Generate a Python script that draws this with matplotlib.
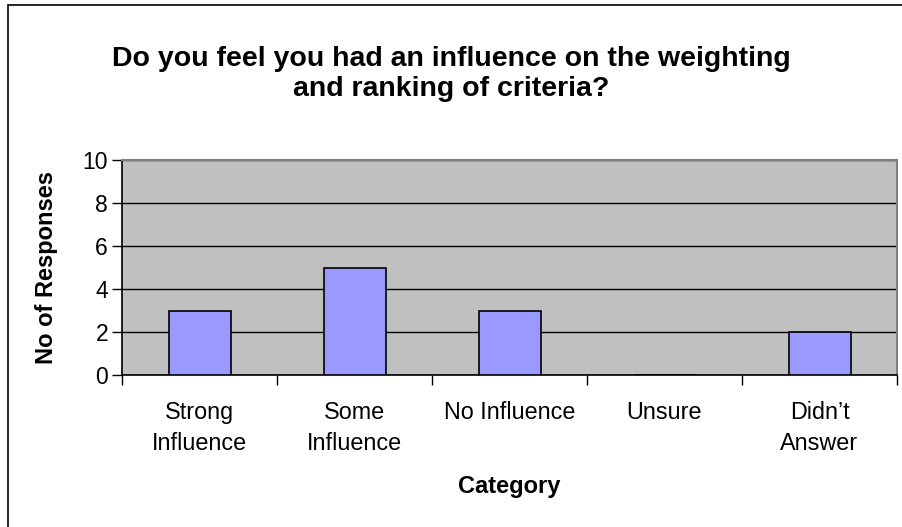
import matplotlib
matplotlib.use("Agg")
import matplotlib.pyplot as plt
from matplotlib.patches import Rectangle
import numpy as np

categories = ["Strong\nInfluence", "Some\nInfluence", "No Influence", "Unsure", "Didn\u2019t\nAnswer"]
responses = [3, 5, 3, 0, 2]
y_ticks = [0, 2, 4, 6, 8, 10]

plt.rcParams["font.family"] = ["Liberation Sans", "DejaVu Sans"]

W, H = 902, 527
fig = plt.figure(figsize=(W / 100, H / 100), dpi=100)
fig.patch.set_facecolor("white")

# outer chart border (left and top edges visible)
fig.add_artist(Rectangle((8 / W, -0.1), 1.2, 1 - 5 / H + 0.1,
                         transform=fig.transFigure, fill=False,
                         edgecolor="black", linewidth=1.2))

left, right, top, bottom = 122, 897, 160, 375
ax = fig.add_axes([left / W, 1 - bottom / H, (right - left) / W, (bottom - top) / H])
ax.set_facecolor("#C0C0C0")

x = np.arange(len(categories))
ax.bar(x, responses, width=0.4, color="#9999FF", edgecolor="black",
       linewidth=1.2, zorder=3)

ax.set_xlim(-0.5, len(categories) - 0.5)
ax.set_ylim(0, 10)
ax.set_yticks(y_ticks)
ax.yaxis.grid(True, color="black", linewidth=1.0, zorder=1)
ax.set_axisbelow(True)

ax.set_xticks(np.arange(len(categories) + 1) - 0.5)
ax.set_xticklabels([])
ax.set_xticks(x, minor=True)
ax.set_xticklabels(categories, minor=True, fontsize=16.8, linespacing=1.42)
ax.tick_params(axis="x", which="major", length=7, width=1, direction="out", color="black")
ax.tick_params(axis="x", which="minor", length=0, pad=19)
ax.tick_params(axis="y", length=7, width=1, direction="out", labelsize=16.5, pad=3)

for side in ["left", "bottom"]:
    ax.spines[side].set_color("black")
    ax.spines[side].set_linewidth(1.2)
for side in ["top", "right"]:
    ax.spines[side].set_color("#808080")
    ax.spines[side].set_linewidth(1.5)

fig.text(451 / W, 1 - 74 / H,
         "Do you feel you had an influence on the weighting\nand ranking of criteria?",
         ha="center", va="center", fontsize=20.5, fontweight="bold", linespacing=1.25)
fig.text(509 / W, 1 - 486 / H, "Category", ha="center", va="center",
         fontsize=17, fontweight="bold")
fig.text(47 / W, 1 - 268 / H, "No of Responses", ha="center", va="center",
         rotation=90, fontsize=17, fontweight="bold")

fig.savefig("out.png", dpi=100)
